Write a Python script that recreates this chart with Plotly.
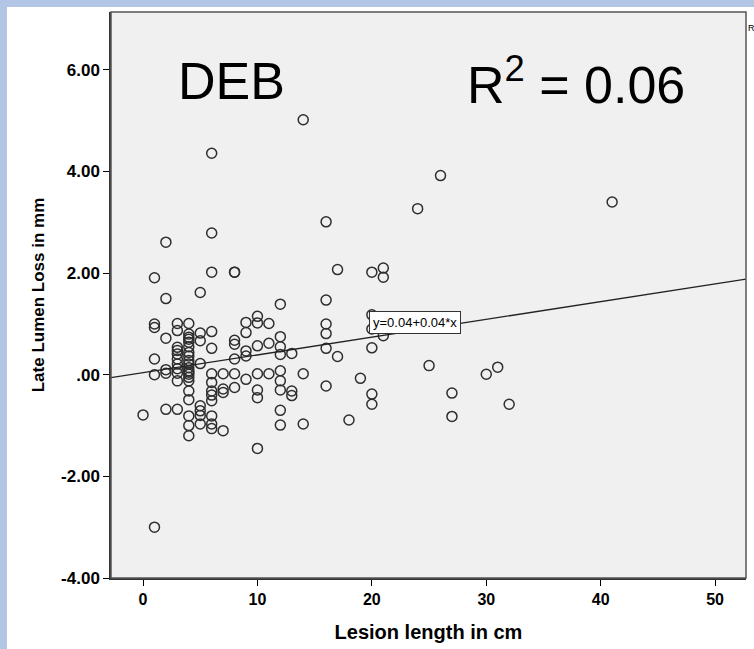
import plotly.graph_objects as go

# ---- data ----
lesion_length_cm = [
    0,
    1, 1, 1, 1, 1, 1,
    2, 2, 2, 2, 2, 2,
    3, 3, 3, 3, 3, 3, 3, 3, 3, 3, 3,
    4, 4, 4, 4, 4, 4, 4, 4, 4, 4, 4, 4, 4, 4, 4, 4, 4, 4, 4, 4, 4,
    5, 5, 5, 5, 5, 5, 5, 5,
    6, 6, 6, 6, 6, 6, 6, 6, 6, 6, 6, 6, 6,
    7, 7, 7, 7,
    8, 8, 8, 8, 8, 8, 8,
    9, 9, 9, 9, 9,
    10, 10, 10, 10, 10, 10, 10,
    11, 11, 11,
    12, 12, 12, 12, 12, 12, 12, 12, 12,
    13, 13, 13,
    14, 14, 14,
    16, 16, 16, 16, 16, 16,
    17, 17,
    18,
    19,
    20, 20, 20, 20, 20, 20,
    21, 21, 21,
    24, 25, 26, 27, 27, 30, 31, 32, 41,
]
late_lumen_loss_mm = [
    -0.79,
    1.91, 1.0, 0.93, 0.31, 0.0, -3.0,
    2.61, 1.5, 0.72, 0.1, 0.03, -0.68,
    1.01, 0.87, 0.54, 0.48, 0.41, 0.31, 0.21, 0.12, 0.03, -0.12, -0.68,
    1.01, 0.8, 0.74, 0.7, 0.64, 0.55, 0.44, 0.37, 0.28, 0.21, 0.14, 0.08, 0.05, 0.01, -0.05, -0.12, -0.32, -0.49, -0.81, -1.0, -1.2,
    1.62, 0.82, 0.67, 0.22, -0.61, -0.71, -0.8, -0.97,
    4.36, 2.79, 2.02, 0.85, 0.52, 0.02, -0.15, -0.32, -0.4, -0.51, -0.81, -0.97, -1.06,
    0.02, -0.28, -0.35, -1.1,
    2.02, 2.02, 0.68, 0.6, 0.31, 0.02, -0.25,
    1.03, 0.83, 0.47, 0.37, -0.09,
    1.15, 1.02, 0.57, 0.02, -0.3, -0.45, -1.45,
    1.01, 0.62, 0.02,
    1.39, 0.75, 0.55, 0.4, 0.08, -0.12, -0.3, -0.7, -0.99,
    0.42, -0.32, -0.41,
    5.02, 0.02, -0.97,
    3.01, 1.47, 1.0, 0.81, 0.52, -0.22,
    2.07, 0.36,
    -0.89,
    -0.07,
    2.02, 1.18, 0.9, 0.53, -0.38, -0.58,
    2.1, 1.92, 0.77,
    3.27, 0.18, 3.92, -0.36, -0.82, 0.01, 0.15, -0.58, 3.4,
]

fit_intercept = 0.04
fit_slope = 0.035
fit_label = "y=0.04+0.04*x"

x_ticks = [0, 10, 20, 30, 40, 50]
x_tick_labels = ["0", "10", "20", "30", "40", "50"]
y_ticks = [-4, -2, 0, 2, 4, 6]
y_tick_labels = ["-4.00", "-2.00", ".00", "2.00", "4.00", "6.00"]

x_range = [-2.8, 52.7]
y_range = [-4.0, 7.14]

# ---- figure ----
W, H = 754, 649
ML, MR, MT, MB = 111, 8, 12, 71
PW, PH = W - ML - MR, H - MT - MB

def px_x(p):
    return (p - ML) / PW

def px_y(p):
    return (H - MB - p) / PH

bold_font = "Liberation Sans, Arial, sans-serif"
regular = "Liberation Sans, Arial, sans-serif"

fig = go.Figure()

fig.add_trace(go.Scatter(
    x=lesion_length_cm, y=late_lumen_loss_mm, mode="markers",
    marker=dict(symbol="circle-open", size=10, color="#2e2e2e", line=dict(width=1.5)),
    showlegend=False, hoverinfo="x+y",
))

fit_x = x_range
fit_y = [fit_intercept + fit_slope * v for v in fit_x]
fig.add_trace(go.Scatter(
    x=fit_x, y=fit_y, mode="lines",
    line=dict(color="#222222", width=1.3), showlegend=False, hoverinfo="skip",
))

shapes = [
    # blue frame strips (slide background)
    dict(type="rect", xref="paper", yref="paper", layer="below",
         x0=px_x(0), x1=px_x(7), y0=px_y(H), y1=px_y(0),
         fillcolor="#b2c5e4", line=dict(width=0)),
    dict(type="rect", xref="paper", yref="paper", layer="below",
         x0=px_x(0), x1=px_x(W), y0=px_y(7), y1=px_y(0),
         fillcolor="#b2c5e4", line=dict(width=0)),
    # plot frame
    dict(type="rect", xref="paper", yref="paper", layer="above",
         x0=0, x1=1, y0=0, y1=1, line=dict(color="#555555", width=1.5)),
]

annotations = [
    dict(text="DEB", xref="paper", yref="paper", x=px_x(231), y=px_y(81),
         showarrow=False, font=dict(family=regular, size=52, color="#000000"),
         xanchor="center", yanchor="middle"),
    dict(text="R<sup>2</sup> = 0.06", xref="paper", yref="paper", x=px_x(576), y=px_y(81),
         showarrow=False, font=dict(family=regular, size=52, color="#000000"),
         xanchor="center", yanchor="middle"),
    dict(text=fit_label, xref="x", yref="y", x=23.8, y=1.02,
         showarrow=False, font=dict(family=regular, size=13, color="#000000"),
         bgcolor="#ffffff", bordercolor="#333333", borderwidth=1, borderpad=3,
         xanchor="center", yanchor="middle"),
    dict(text="R", xref="paper", yref="paper", x=px_x(746), y=px_y(28),
         showarrow=False, font=dict(family=regular, size=9, color="#000000"),
         xanchor="left", yanchor="middle"),
]

fig.update_layout(
    width=W, height=H,
    margin=dict(l=ML, r=MR, t=MT, b=MB, pad=0),
    paper_bgcolor="#ffffff", plot_bgcolor="#f0f0f0",
    shapes=shapes, annotations=annotations,
    xaxis=dict(
        range=x_range, tickmode="array", tickvals=x_ticks, ticktext=x_tick_labels,
        ticks="outside", ticklen=6, tickwidth=1.2, tickcolor="#000000",
        showgrid=False, zeroline=False, showline=True, linecolor="#333333", linewidth=1.5,
        tickfont=dict(family=bold_font, size=16, color="#000000", weight="bold"),
        title=dict(text="Lesion length in cm", standoff=18,
                   font=dict(family=bold_font, size=20, color="#000000", weight="bold")),
    ),
    yaxis=dict(
        range=y_range, tickmode="array", tickvals=y_ticks, ticktext=y_tick_labels,
        ticks="outside", ticklen=6, tickwidth=1.2, tickcolor="#000000",
        showgrid=False, zeroline=False, showline=True, linecolor="#333333", linewidth=1.5,
        tickfont=dict(family=bold_font, size=17, color="#000000", weight="bold"),
        title=dict(text="Late Lumen Loss in mm", standoff=12,
                   font=dict(family=bold_font, size=17, color="#000000", weight="bold")),
    ),
)

fig.write_html("out.html", config={"displayModeBar": False},
               post_script="document.body.style.margin='0px';")
